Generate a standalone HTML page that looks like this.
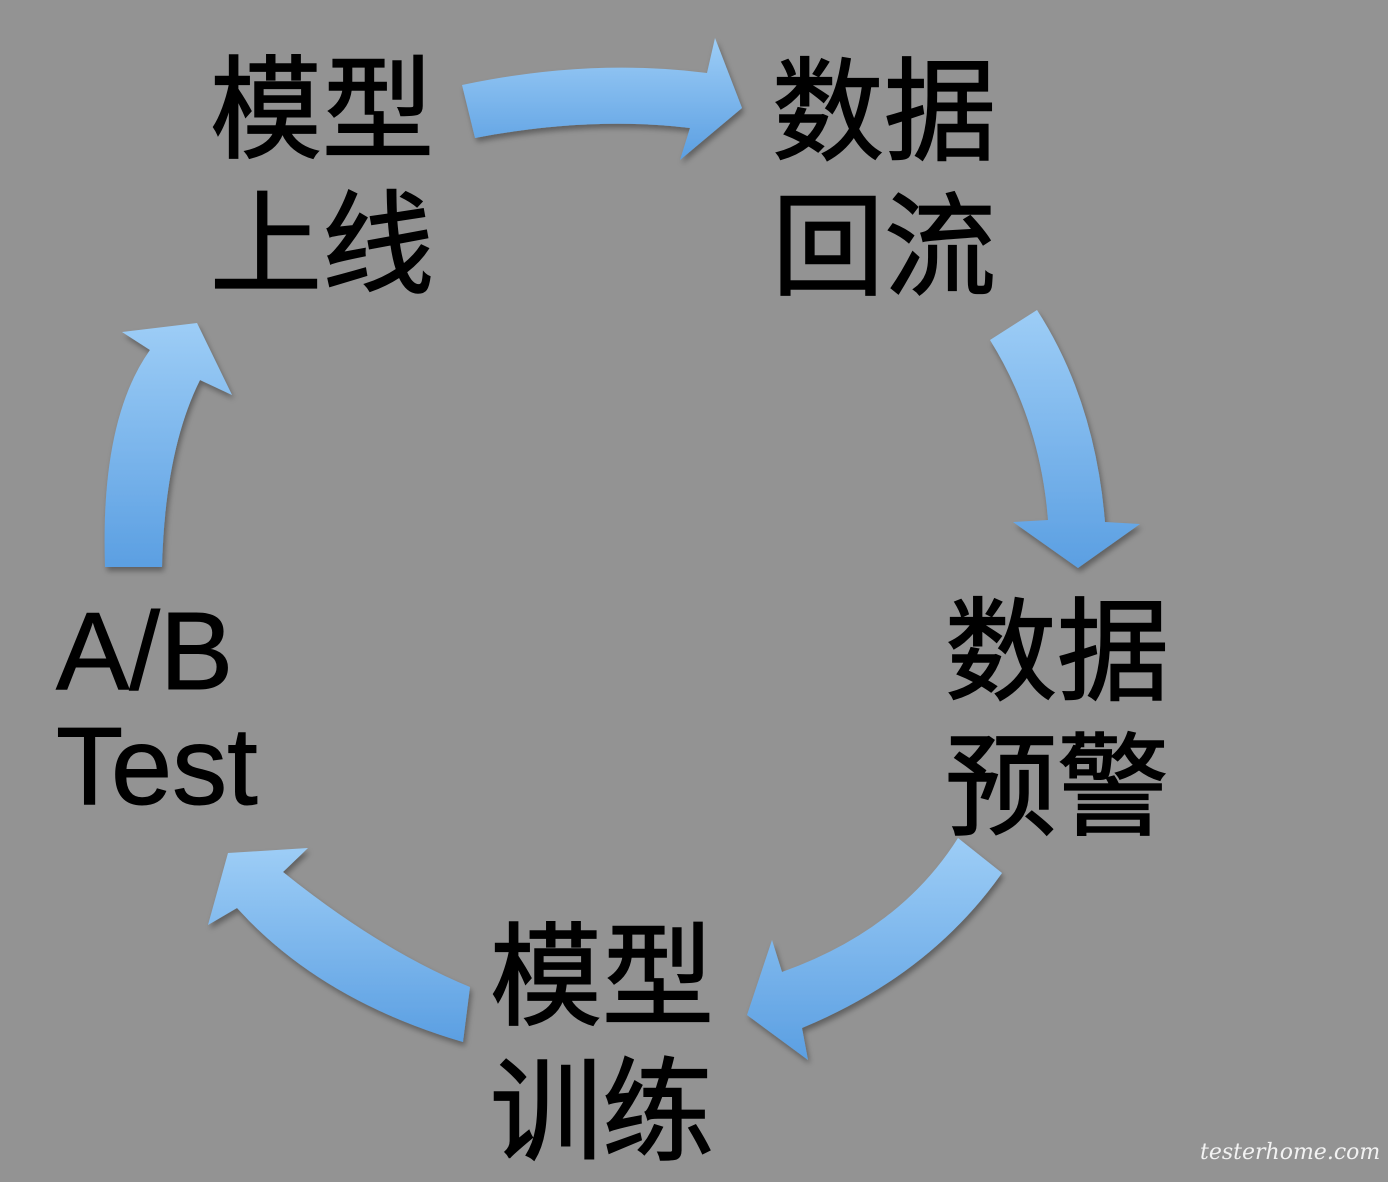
<!DOCTYPE html>
<html><head><meta charset="utf-8"><style>
html,body{margin:0;padding:0}
body{width:1388px;height:1182px;background:#939393;position:relative;overflow:hidden}
.c{position:absolute;font-family:"Liberation Sans","Noto Sans CJK SC",sans-serif;font-size:112px;line-height:135px;color:#000;white-space:nowrap;-webkit-text-stroke:1.5px #000}
.e{position:absolute;font-family:"Liberation Sans",sans-serif;font-size:110px;line-height:115px;color:#000;-webkit-text-stroke:1px #000}
svg{position:absolute;left:0;top:0}
</style></head><body>
<svg width="1388" height="1182">
<defs>
<linearGradient id="g" x1="0" y1="0" x2="0" y2="1">
<stop offset="0" stop-color="#9dcdf6"/><stop offset="1" stop-color="#5b9fe2"/></linearGradient>
<filter id="s" x="-20%" y="-20%" width="140%" height="140%"><feGaussianBlur in="SourceAlpha" stdDeviation="3"/><feOffset dx="2" dy="4"/><feComponentTransfer><feFuncA type="linear" slope="0.35"/></feComponentTransfer><feMerge><feMergeNode/><feMergeNode in="SourceGraphic"/></feMerge></filter>
</defs>
<g filter="url(#s)">
<path fill="url(#g)" d="M462,85 Q590,58 707,73 L715,38 L742,108 L680,160 L690,128 Q590,116 475,138 Z"/>
<path fill="url(#g)" d="M990,340 L1037,310 Q1095,400 1105,522 L1140,524 L1078,568 L1013,522 L1048,520 Q1040,420 990,340 Z"/>
<path fill="url(#g)" d="M958,838 L1002,873 Q930,975 802,1028 L808,1060 L747,1015 L772,940 L782,972 Q900,930 958,838 Z"/>
<path fill="url(#g)" d="M208,925 L228,853 L308,848 L283,872 Q380,950 470,987 L463,1042 Q320,1000 237,908 Z"/>
<path fill="url(#g)" d="M105,567 Q100,420 150,350 L122,332 L197,323 L232,395 L200,380 Q165,450 162,567 Z"/>
</g>
</svg>
<div class="c" style="left:210px;top:43px">模型<br>上线</div>
<div class="c" style="left:772px;top:45px">数据<br>回流</div>
<div class="c" style="left:945px;top:585px">数据<br>预警</div>
<div class="c" style="left:490px;top:910px">模型<br>训练</div>
<div class="e" style="left:56px;top:594px">A/B<br>Test</div>
<div style="position:absolute;left:1200px;top:1140px;font-family:'DejaVu Serif',serif;font-style:italic;font-size:22px;color:#f2f2f2">testerhome.com</div>
</body></html>
